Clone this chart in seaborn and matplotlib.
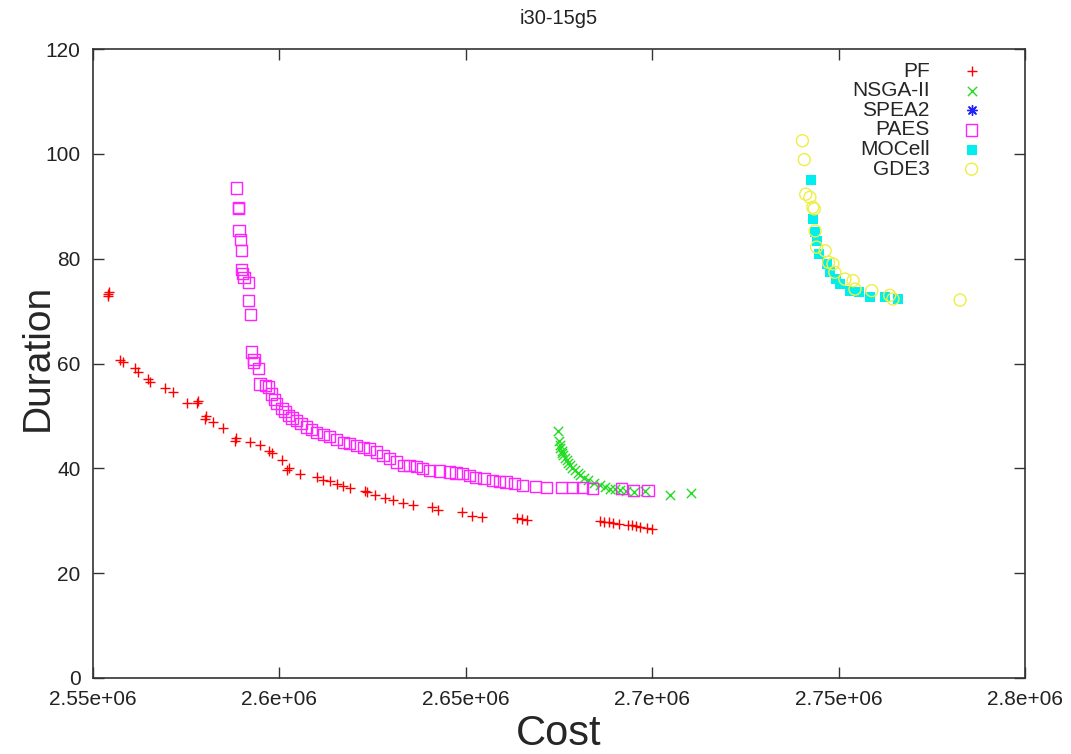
import matplotlib
matplotlib.use('Agg')
import matplotlib.pyplot as plt
from matplotlib.ticker import FuncFormatter, MultipleLocator
import seaborn as sns

# Values (cost, duration)
pf_cost = [2.5540e6, 2.5541e6, 2.5543e6, 2.5572e6, 2.5580e6, 2.5613e6, 2.5620e6, 2.5647e6,
           2.5652e6, 2.5693e6, 2.5714e6, 2.5751e6, 2.5778e6, 2.5781e6, 2.5800e6, 2.5803e6,
           2.5822e6, 2.5848e6, 2.5880e6, 2.5883e6, 2.5921e6, 2.5948e6, 2.5972e6, 2.5980e6,
           2.6007e6, 2.6021e6, 2.6025e6, 2.6055e6, 2.6101e6, 2.6117e6, 2.6136e6, 2.6155e6,
           2.6170e6, 2.6189e6, 2.6230e6, 2.6235e6, 2.6256e6, 2.6283e6, 2.6305e6, 2.6332e6,
           2.6358e6, 2.6409e6, 2.6426e6, 2.6490e6, 2.6517e6, 2.6544e6, 2.6637e6, 2.6652e6,
           2.6664e6, 2.6861e6, 2.6871e6, 2.6883e6, 2.6896e6, 2.6911e6, 2.6934e6, 2.6945e6,
           2.6958e6, 2.6968e6, 2.6985e6, 2.6999e6]
pf_dur = [73.3, 72.9, 73.6, 60.6, 60.2, 59.2, 58.3, 57.1,
          56.4, 55.4, 54.5, 52.4, 52.4, 52.8, 49.5, 50.0,
          48.8, 47.6, 45.3, 45.7, 45.0, 44.4, 43.4, 42.9,
          41.5, 39.6, 40.0, 39.0, 38.3, 37.7, 37.5, 37.1,
          36.6, 36.2, 35.6, 35.4, 34.9, 34.3, 33.9, 33.3,
          33.0, 32.6, 32.0, 31.6, 31.0, 30.7, 30.5, 30.4,
          30.1, 29.9, 29.8, 29.7, 29.5, 29.4, 29.1, 29.1,
          29.0, 28.8, 28.7, 28.4]

nsga_cost = [2.6748e6, 2.6749e6, 2.6752e6, 2.6754e6, 2.6757e6, 2.6759e6, 2.6761e6, 2.6766e6,
             2.6771e6, 2.6775e6, 2.6780e6, 2.6786e6, 2.6793e6, 2.6800e6, 2.6807e6, 2.6816e6,
             2.6829e6, 2.6843e6, 2.6861e6, 2.6873e6, 2.6888e6, 2.6900e6, 2.6914e6, 2.6930e6,
             2.6950e6, 2.6981e6, 2.7049e6, 2.7105e6]
nsga_dur = [47.1, 45.3, 44.4, 43.9, 43.4, 42.9, 42.5, 42.0,
            41.5, 41.0, 40.6, 40.1, 39.6, 39.1, 38.7, 38.2,
            37.7, 37.2, 36.8, 36.4, 36.1, 36.0, 35.8, 35.6,
            35.5, 35.7, 35.0, 35.2]

spea2_cost = []
spea2_dur = []

paes_cost = [2.5886e6, 2.5890e6, 2.5891e6, 2.5892e6, 2.5896e6, 2.5899e6, 2.5899e6, 2.5901e6,
             2.5905e6, 2.5917e6, 2.5917e6, 2.5922e6, 2.5926e6, 2.5930e6, 2.5932e6, 2.5943e6,
             2.5948e6, 2.5962e6, 2.5970e6, 2.5979e6, 2.5987e6, 2.5993e6, 2.6007e6, 2.6015e6,
             2.6024e6, 2.6034e6, 2.6046e6, 2.6058e6, 2.6073e6, 2.6086e6, 2.6100e6, 2.6118e6,
             2.6135e6, 2.6153e6, 2.6171e6, 2.6189e6, 2.6207e6, 2.6225e6, 2.6242e6, 2.6260e6,
             2.6278e6, 2.6296e6, 2.6314e6, 2.6332e6, 2.6350e6, 2.6367e6, 2.6385e6, 2.6403e6,
             2.6429e6, 2.6456e6, 2.6474e6, 2.6492e6, 2.6510e6, 2.6527e6, 2.6549e6, 2.6572e6,
             2.6590e6, 2.6608e6, 2.6631e6, 2.6653e6, 2.6688e6, 2.6716e6, 2.6756e6, 2.6787e6,
             2.6814e6, 2.6841e6, 2.6918e6, 2.6950e6, 2.6989e6]
paes_dur = [93.5, 89.5, 89.8, 85.3, 83.7, 81.5, 78.0, 77.2,
            76.4, 75.5, 72.0, 69.3, 62.2, 60.2, 60.7, 59.0,
            56.1, 55.8, 55.5, 54.2, 53.2, 52.3, 51.4, 50.8,
            50.1, 49.6, 49.1, 48.5, 47.9, 47.4, 46.9, 46.4,
            46.0, 45.5, 45.0, 44.7, 44.4, 44.0, 43.7, 43.1,
            42.5, 41.8, 41.2, 40.6, 40.5, 40.3, 40.0, 39.6,
            39.5, 39.3, 39.1, 39.0, 38.6, 38.3, 38.0, 37.7,
            37.5, 37.4, 37.1, 36.8, 36.6, 36.4, 36.3, 36.3,
            36.3, 36.1, 36.1, 35.8, 35.8]

mocell_cost = [2.7425e6, 2.7431e6, 2.7437e6, 2.7443e6, 2.7448e6, 2.7468e6, 2.7477e6, 2.7494e6,
               2.7504e6, 2.7531e6, 2.7556e6, 2.7584e6, 2.7624e6, 2.7660e6]
mocell_dur = [95.0, 87.6, 85.0, 83.4, 80.9, 79.0, 77.4, 76.1,
              75.2, 73.9, 73.6, 72.7, 72.7, 72.3]

gde3_cost = [2.7403e6, 2.7408e6, 2.7412e6, 2.7423e6, 2.7431e6, 2.7435e6, 2.7437e6, 2.7441e6,
             2.7464e6, 2.7473e6, 2.7485e6, 2.7490e6, 2.7517e6, 2.7539e6, 2.7544e6, 2.7589e6,
             2.7637e6, 2.7646e6, 2.7826e6]
gde3_dur = [102.5, 98.9, 92.3, 91.7, 89.8, 89.5, 85.3, 82.2,
            81.5, 79.3, 79.0, 77.4, 76.1, 75.8, 74.2, 73.9,
            73.0, 72.3, 72.1]

sns.set_style('ticks')
plt.rcParams['font.family'] = ['Liberation Sans', 'DejaVu Sans']

fig = plt.figure(figsize=(10.71, 7.54), dpi=100)
ax = fig.add_axes([0.0868, 0.1008, 0.8702, 0.8342])

sns.scatterplot(x=pf_cost, y=pf_dur, marker='+', color='#ff0000', s=55, linewidth=1.0,
                label='PF', ax=ax)
sns.scatterplot(x=nsga_cost, y=nsga_dur, marker='x', color='#22dd22', s=45, linewidth=1.0,
                label='NSGA-II', ax=ax)
# SPEA2 has no visible points, keep its legend entry
ax.scatter(spea2_cost, spea2_dur, marker=(8, 2, 0), color='#2020ff', s=50, linewidths=1.0,
           label='SPEA2')
sns.scatterplot(x=paes_cost, y=paes_dur, marker='s', color='#ff00ff', facecolor='none',
                edgecolor='#ff22ff', s=65, linewidth=1.0, label='PAES', ax=ax)
sns.scatterplot(x=mocell_cost, y=mocell_dur, marker='s', color='#00eeee', edgecolor='none',
                s=52, label='MOCell', ax=ax)
sns.scatterplot(x=gde3_cost, y=gde3_dur, marker='o', color='#eeee22', facecolor='none',
                edgecolor='#eeee44', s=75, linewidth=1.0, label='GDE3', ax=ax)

ax.set_xlim(2.55e6, 2.8e6)
ax.set_ylim(0, 120)
ax.xaxis.set_major_locator(MultipleLocator(50000))
ax.yaxis.set_major_locator(MultipleLocator(20))
ax.xaxis.set_major_formatter(FuncFormatter(lambda v, p: '%g' % v))
ax.tick_params(direction='in', length=8, width=1, labelsize=15, top=True, right=True,
               color='#333333', labelcolor='#222222')
ax.tick_params(axis='x', pad=9)
ax.tick_params(axis='y', pad=9)
for sp in ax.spines.values():
    sp.set_linewidth(1.2)
    sp.set_color('#333333')

ax.set_xlabel('Cost', fontsize=30, labelpad=3)
ax.set_ylabel('Duration', fontsize=28)
ax.yaxis.set_label_coords(-0.04, 0.51)
ax.set_title('i30-15g5', fontsize=14.5, pad=18, color='#222222')

ax.legend(loc='upper right', bbox_to_anchor=(0.9785, 1.0), frameon=False, markerfirst=False,
          fontsize=15, labelspacing=0.03, handletextpad=1.0, borderaxespad=0.2)

fig.savefig('out.png', dpi=100)
